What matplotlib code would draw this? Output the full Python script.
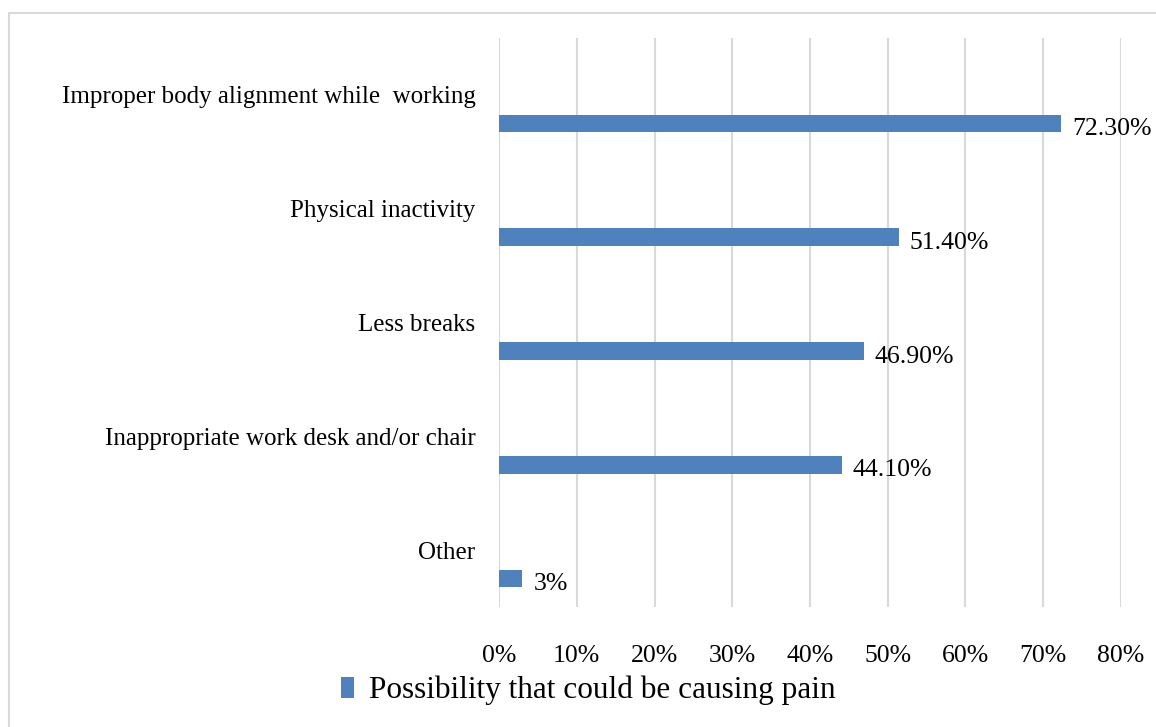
import matplotlib.pyplot as plt
from matplotlib.patches import Rectangle

# data
categories = [
    "Improper body alignment while  working",
    "Physical inactivity",
    "Less breaks",
    "Inappropriate work desk and/or chair",
    "Other",
]
values = [72.3, 51.4, 46.9, 44.1, 3.0]
value_labels = ["72.30%", "51.40%", "46.90%", "44.10%", "3%"]
x_ticks = [0, 10, 20, 30, 40, 50, 60, 70, 80]
series_name = "Possibility that could be causing pain"

plt.rcParams['font.family'] = ['Liberation Serif', 'DejaVu Serif']

fig = plt.figure(figsize=(11.56, 7.27), dpi=100)
ax = fig.add_axes([0.4317, 0.165, 0.538, 0.7827])

# bars sit a bit below the category centre (Excel style)
pos = list(range(len(categories)))
bar_pos = [p + 0.25 for p in pos]
bars = ax.barh(bar_pos, values, height=0.155, color="#4F81BD", label=series_name, zorder=3)

for b, txt in zip(bars, value_labels):
    ax.annotate(txt, (b.get_width(), b.get_y() + b.get_height() / 2),
                xytext=(8, -4), textcoords="offset points",
                ha="left", va="center", fontsize=18.5, color="#000000")

ax.set_xlim(0, 80)
ax.set_ylim(len(categories) - 0.5, -0.5)
ax.set_xticks(x_ticks)
ax.set_xticklabels([f"{t}%" for t in x_ticks], fontsize=18.5)
ax.set_yticks(pos)
ax.set_yticklabels(categories, fontsize=18)
ax.tick_params(axis="x", length=0, pad=27)
ax.tick_params(axis="y", length=0, pad=17)
ax.grid(axis="x", color="#D9D9D9", linewidth=1.5, zorder=0)
for s in ax.spines.values():
    s.set_visible(False)

fig.legend(loc="center", bbox_to_anchor=(0.509, 0.05), frameon=False,
           fontsize=22.5, handlelength=0.4, handleheight=0.7, handletextpad=0.5)

# outer chart border (cut off right and bottom)
fig.patches.append(Rectangle((0.0078, -0.1), 1.2, 1.082, transform=fig.transFigure,
                             fill=False, edgecolor="#D9D9D9", linewidth=1.5))

fig.savefig("out.png", dpi=100)
